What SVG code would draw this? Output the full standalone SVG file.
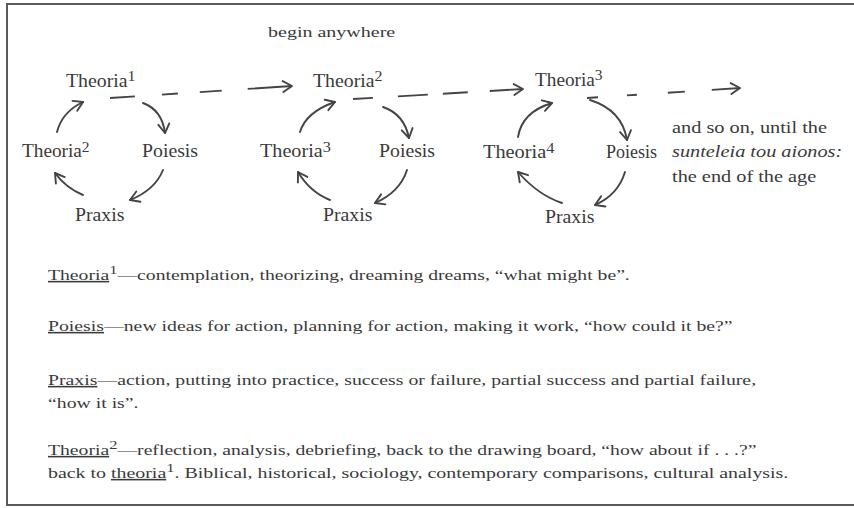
<svg xmlns="http://www.w3.org/2000/svg" width="854" height="508" viewBox="0 0 854 508">
<style>
text { font-family: "Liberation Serif", "Times New Roman", serif; fill: #3a3a3a; }
.lbl { font-size: 18px; }
.sup { font-size: 14.5px; }
.body { font-size: 15.5px; }
.bsup { font-size: 13px; }
.side { font-size: 16px; }
.ul { text-decoration: underline; }
.arc { fill: none; stroke: #444; stroke-width: 1.9; stroke-linecap: round; marker-end: url(#ah); }
.dash { fill: none; stroke: #444; stroke-width: 1.9; marker-end: url(#ah); }
</style>
<defs>
<marker id="ah" viewBox="-12 -8 14 16" markerWidth="14" markerHeight="16" refX="0" refY="0" orient="auto" markerUnits="userSpaceOnUse">
<path d="M-9,-5.5 L0,0 L-9,5.5" fill="none" stroke="#444" stroke-width="1.9" stroke-linecap="round" stroke-linejoin="round"/>
</marker>
</defs>
<rect width="854" height="508" fill="#fff"/>
<path d="M854,4 H7 V505 H854" fill="none" stroke="#5a5a5a" stroke-width="2"/>

<g id="begin-anywhere"><text class="side" transform="translate(268,37) scale(1.38,1)" style="font-size:14.5px">begin anywhere</text></g>

<!-- cycle 1 -->
<g id="c1-theoria1"><text class="lbl" transform="translate(66,87) scale(1.1,1)">Theoria<tspan class="sup" dy="-6">1</tspan></text></g>
<g id="c1-theoria2"><text class="lbl" transform="translate(22,157) scale(1.07,1)">Theoria<tspan class="sup" dy="-5">2</tspan></text></g>
<g id="c1-poiesis"><text class="lbl" transform="translate(142,157) scale(1.1,1)">Poiesis</text></g>
<g id="c1-praxis"><text class="lbl" transform="translate(75,221) scale(1.1,1)">Praxis</text></g>

<!-- cycle 2 -->
<g id="c2-theoria2"><text class="lbl" transform="translate(313,87) scale(1.1,1)">Theoria<tspan class="sup" dy="-6">2</tspan></text></g>
<g id="c2-theoria3"><text class="lbl" transform="translate(260,157) scale(1.12,1)">Theoria<tspan class="sup" dy="-5">3</tspan></text></g>
<g id="c2-poiesis"><text class="lbl" transform="translate(379,157) scale(1.1,1)">Poiesis</text></g>
<g id="c2-praxis"><text class="lbl" transform="translate(323,221) scale(1.1,1)">Praxis</text></g>

<!-- cycle 3 -->
<g id="c3-theoria3"><text class="lbl" transform="translate(535,86) scale(1.07,1)">Theoria<tspan class="sup" dy="-6">3</tspan></text></g>
<g id="c3-theoria4"><text class="lbl" transform="translate(483,158) scale(1.13,1)">Theoria<tspan class="sup" dy="-5">4</tspan></text></g>
<g id="c3-poiesis"><text class="lbl" transform="translate(606,158) scale(1.0,1)">Poiesis</text></g>
<g id="c3-praxis"><text class="lbl" transform="translate(545,223) scale(1.1,1)">Praxis</text></g>

<g id="and-so-on">
<text class="side" transform="translate(672,133) scale(1.27,1)">and so on, until the</text>
<text class="side" transform="translate(672,157) scale(1.27,1)" font-style="italic">sunteleia tou aionos:</text>
<text class="side" transform="translate(672,182) scale(1.27,1)">the end of the age</text>
</g>

<g id="connectors">
<path class="arc" d="M57,132 Q62,112 83,102"/>
<path class="arc" d="M143,103 Q162,110 165,133"/>
<path class="arc" d="M163,170 Q155,190 130,200"/>
<path class="arc" d="M83,195 Q66,188 55,173"/>

<path class="arc" d="M300,132 Q306,112 335,102"/>
<path class="arc" d="M383,107 Q404,114 409,138"/>
<path class="arc" d="M407,170 Q400,192 375,203"/>
<path class="arc" d="M330,200 Q310,192 298,172"/>

<path class="arc" d="M518,137 Q522,112 552,103"/>
<path class="arc" d="M590,100 Q622,110 627,140"/>
<path class="arc" d="M625,172 Q618,195 595,205"/>
<path class="arc" d="M562,203 Q538,195 518,172"/>

<path class="dash" d="M110,98 L292,86" stroke-dasharray="25 27 16 22 22 26 46"/>
<path class="dash" d="M353,99 L523,89" stroke-dasharray="20 25 30 15 25 22 40"/>
<path class="dash" d="M587,98 L740,88" stroke-dasharray="11 29 10 31 17 27 40"/>
</g>

<g id="definitions">
<text class="body" transform="translate(48,280) scale(1.27,1)"><tspan class="ul">Theoria</tspan><tspan class="bsup" dy="-6">1</tspan><tspan dy="6">—contemplation, theorizing, dreaming dreams, “what might be”.</tspan></text>
<text class="body" transform="translate(48,331) scale(1.275,1)"><tspan class="ul">Poiesis</tspan>—new ideas for action, planning for action, making it work, “how could it be?”</text>
<text class="body" transform="translate(48,385) scale(1.275,1)"><tspan class="ul">Praxis</tspan>—action, putting into practice, success or failure, partial success and partial failure,</text>
<text class="body" transform="translate(48,408) scale(1.275,1)">“how it is”.</text>
<text class="body" transform="translate(48,455) scale(1.27,1)"><tspan class="ul">Theoria</tspan><tspan class="bsup" dy="-6">2</tspan><tspan dy="6">—reflection, analysis, debriefing, back to the drawing board, “how about if . . .?”</tspan></text>
<text class="body" transform="translate(48,478) scale(1.285,1)">back to <tspan class="ul">theoria</tspan><tspan class="bsup" dy="-6">1</tspan><tspan dy="6">. Biblical, historical, sociology, contemporary comparisons, cultural analysis.</tspan></text>
</g>
</svg>
